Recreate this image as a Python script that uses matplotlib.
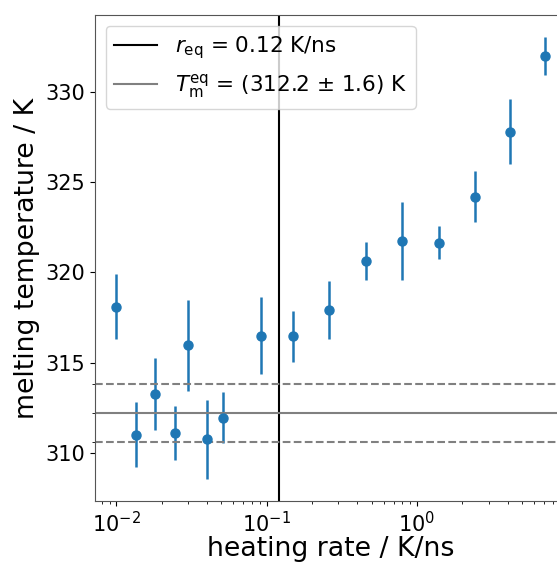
import numpy as np
import matplotlib
matplotlib.use("Agg")
import matplotlib.pyplot as plt

# heating rates (K/ns), melting temperatures (K) and their errors
rate = [0.0100, 0.0136, 0.0180, 0.0244, 0.0300, 0.0403, 0.0510, 0.0910,
        0.150, 0.260, 0.460, 0.800, 1.41, 2.44, 4.14, 7.06]
t_melt = [318.1, 311.0, 313.25, 311.1, 315.95, 310.75, 311.95, 316.5,
          316.45, 317.9, 320.65, 321.75, 321.65, 324.2, 327.8, 332.0]
t_err = [1.8, 1.8, 2.0, 1.5, 2.5, 2.2, 1.4, 2.15,
         1.4, 1.6, 1.05, 2.15, 0.9, 1.4, 1.8, 1.05]

r_eq = 0.12
t_eq = 312.2
t_eq_err = 1.6

fig = plt.figure(figsize=(5.57, 5.63), dpi=100)
ax = fig.add_axes([95 / 557, 62 / 563, (566 - 95) / 557, (501 - 15) / 563])

ax.errorbar(rate, t_melt, yerr=t_err, fmt='o', color='#1f77b4',
            markersize=6.5, elinewidth=1.8)
ax.set_xscale('log')

ax.axvline(r_eq, color='black', lw=1.5,
           label=r'$r_\mathrm{eq}$ = %.2f K/ns' % r_eq)
ax.axhline(t_eq, color='gray', lw=1.5,
           label=r'$T_\mathrm{m}^\mathrm{eq}$ = (%.1f $\pm$ %.1f) K' % (t_eq, t_eq_err))
ax.axhline(t_eq + t_eq_err, color='gray', lw=1.5, ls='--')
ax.axhline(t_eq - t_eq_err, color='gray', lw=1.5, ls='--')

ax.set_yticks([t_eq - t_eq_err, t_eq, t_eq + t_eq_err], minor=True)

ax.set_xlabel('heating rate / K/ns', fontsize=19.3, labelpad=0)
ax.set_ylabel('melting temperature / K', fontsize=19.3)
ax.tick_params(labelsize=15)
for s in ax.spines.values():
    s.set_color('#555555')
ax.legend(loc='upper left', fontsize=15.5)

fig.savefig('out.png', dpi=100)
